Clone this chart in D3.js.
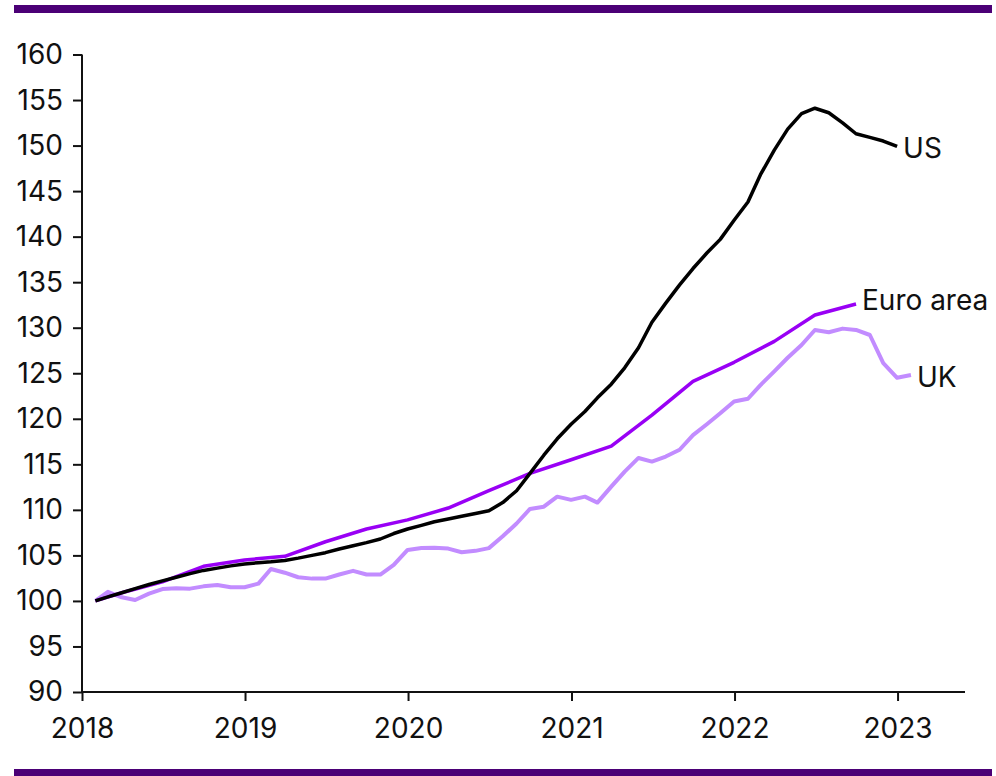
<!DOCTYPE html>
<html>
<head>
<meta charset="utf-8">
<title>House prices index</title>
<script src="https://d3js.org/d3.v7.min.js"></script>
<style>
  body { margin: 0; background: #fff; font-family: "Inter", "Roboto", "DejaVu Sans", sans-serif; }
  .axis text { font-size: 28px; fill: #111; font-family: "Inter", "Roboto", sans-serif; }
  .axis path, .axis line { stroke: #111; stroke-width: 2; }
  .label { font-size: 28px; fill: #111; }
</style>
</head>
<body>
<svg id="chart"></svg>
<script>
// Index, Jan 2018 = 100. Monthly series start at end of Jan 2018.
var usValues = [
  100.0, 100.45, 100.9, 101.35, 101.8, 102.2, 102.6, 103.0, 103.35, 103.6, 103.85, 104.05,
  104.2, 104.3, 104.45, 104.7, 105.0, 105.3, 105.7, 106.05, 106.4, 106.8, 107.4, 107.9,
  108.3, 108.7, 109.0, 109.3, 109.6, 109.9, 110.8, 112.1, 114.0, 116.0, 117.8, 119.4,
  120.8, 122.3, 123.8, 125.6, 127.8, 130.6, 132.7, 134.7, 136.5, 138.2, 139.7, 141.8,
  143.8, 146.8, 149.5, 151.8, 153.5, 154.1, 153.6, 152.5, 151.3, 150.9, 150.5, 149.9
];
var ukValues = [
  100.0, 101.0, 100.4, 100.1, 100.8, 101.3, 101.4, 101.35, 101.6, 101.75, 101.5, 101.5,
  101.9, 103.5, 103.1, 102.6, 102.45, 102.45, 102.9, 103.3, 102.9, 102.9, 103.95, 105.6,
  105.8, 105.85, 105.75, 105.35, 105.5, 105.8, 107.1, 108.5, 110.1, 110.35, 111.45, 111.1,
  111.45, 110.8, 112.55, 114.2, 115.7, 115.3, 115.85, 116.6, 118.2, 119.4, 120.6, 121.9,
  122.2, 123.7, 125.2, 126.7, 128.1, 129.75, 129.5, 129.9, 129.75, 129.2, 126.1, 124.5,
  124.8
];
// Euro area: quarterly after the Jan 2018 base
var euroMonths = [
  "2018-01", "2018-03", "2018-06", "2018-09", "2018-12",
  "2019-03", "2019-06", "2019-09", "2019-12",
  "2020-03", "2020-06", "2020-09", "2020-12",
  "2021-03", "2021-06", "2021-09", "2021-12",
  "2022-03", "2022-06", "2022-09"
];
var euroValues = [
  100.0, 100.9, 102.1, 103.8, 104.5,
  104.9, 106.5, 107.9, 108.9,
  110.2, 112.1, 114.0, 115.5,
  117.0, 120.4, 124.1, 126.2,
  128.5, 131.4, 132.6
];
var yTicks = [90, 95, 100, 105, 110, 115, 120, 125, 130, 135, 140, 145, 150, 155, 160];
var xTicks = ["2018", "2019", "2020", "2021", "2022", "2023"];

var width = 996, height = 776;
var svg = d3.select("#chart").attr("width", width).attr("height", height);

// month end date helper
function monthEnd(str) {
  var p = str.split("-");
  return new Date(+p[0], +p[1], 0);
}
function monthlyDates(n) {
  var out = [];
  for (var i = 0; i < n; i++) out.push(new Date(2018, i + 1, 0));
  return out;
}

var x = d3.scaleTime()
  .domain([new Date(2018, 0, 1), new Date(2023, 5, 1)])
  .range([82, 965]);
var y = d3.scaleLinear()
  .domain([90, 160])
  .range([692, 54.5]);

// purple rules top and bottom
svg.append("rect").attr("x", 14).attr("y", 5).attr("width", 978).attr("height", 8).attr("fill", "#4b0076");
svg.append("rect").attr("x", 14).attr("y", 769).attr("width", 978).attr("height", 8).attr("fill", "#4b0076");

// axes
var yAxis = d3.axisLeft(y).tickValues(yTicks).tickSize(9).tickPadding(10).tickFormat(d3.format("d"));
svg.append("g").attr("class", "axis y").attr("transform", "translate(82,0)").call(yAxis);

var xAxis = d3.axisBottom(x)
  .tickValues(xTicks.map(function (d) { return new Date(+d, 0, 1); }))
  .tickSize(9).tickPadding(17)
  .tickFormat(d3.timeFormat("%Y"));
svg.append("g").attr("class", "axis x").attr("transform", "translate(0,692)").call(xAxis);

svg.select(".axis.y .domain").attr("d", "M0," + y(160) + "V" + y(90));
svg.select(".axis.x .domain").attr("d", "M82,0H965");

var series = [
  { name: "UK", dates: monthlyDates(ukValues.length), values: ukValues, color: "#c28cff", width: 4, dy: 2 },
  { name: "Euro area", dates: euroMonths.map(monthEnd), values: euroValues, color: "#9900f5", width: 3.5, dy: -4 },
  { name: "US", dates: monthlyDates(usValues.length), values: usValues, color: "#000000", width: 3.5, dy: 2 }
];

var line = d3.line()
  .x(function (d) { return x(d[0]); })
  .y(function (d) { return y(d[1]); });

series.forEach(function (s) {
  var pts = s.dates.map(function (d, i) { return [d, s.values[i]]; });
  svg.append("path")
    .datum(pts)
    .attr("fill", "none")
    .attr("stroke", s.color)
    .attr("stroke-width", s.width)
    .attr("stroke-linejoin", "round")
    .attr("d", line);

  // series name at the end of its line
  var last = pts[pts.length - 1];
  svg.append("text")
    .attr("class", "label")
    .attr("x", x(last[0]) + 6)
    .attr("y", y(last[1]) + s.dy)
    .attr("dy", "0.35em")
    .text(s.name);
});
</script>
</body>
</html>
